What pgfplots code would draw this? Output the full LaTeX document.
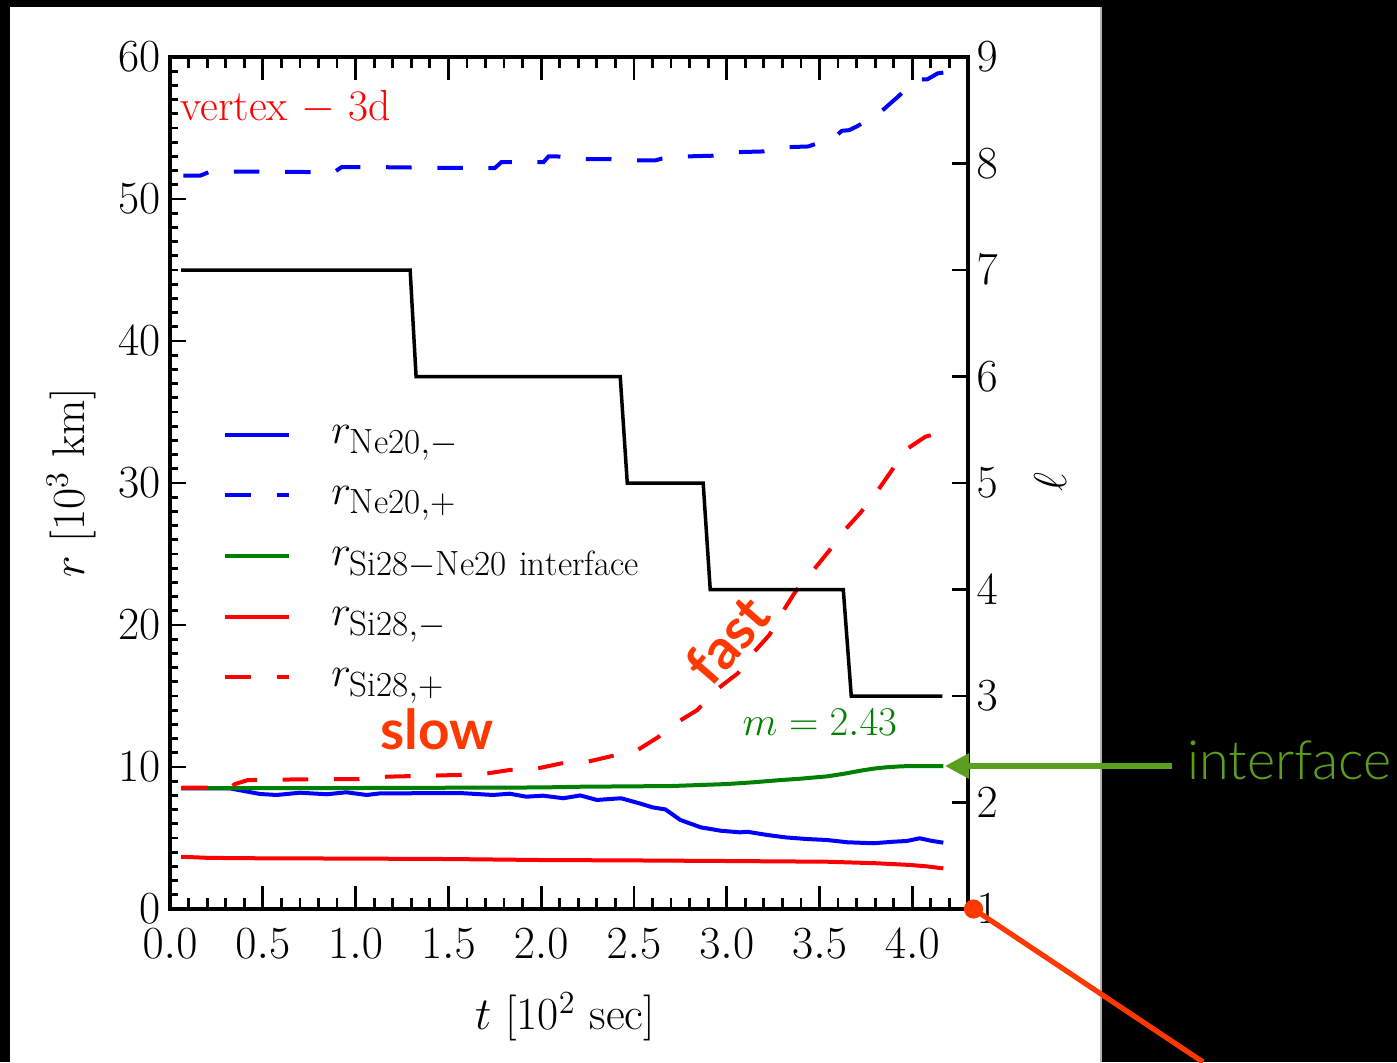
\RequirePackage{fix-cm}
\documentclass[border=0pt]{standalone}
\usepackage{fontspec}
\newfontfamily\lato{Lato}
\newfontfamily\latolight{Lato Light}
\usepackage{pgfplots}
\pgfplotsset{compat=1.18}
\usetikzlibrary{arrows.meta}
\definecolor{annored}{RGB}{255,56,0}
\definecolor{annogreen}{RGB}{92,158,30}
\definecolor{mplgreen}{RGB}{0,128,0}
\newcommand{\fs}[1]{\fontsize{#1}{#1}\selectfont}
\DeclareMathSizes{21}{21}{17.5}{13}
\begin{document}
\begin{tikzpicture}
\useasboundingbox (-85pt,-76.5pt) rectangle (613.5pt,454.5pt);
\fill[black] (-85pt,-76.5pt) rectangle (613.5pt,454.5pt);
\fill[white] (-80pt,-76.5pt) rectangle (465.5pt,451pt);
\draw[gray!60, line width=0.6pt] (465.5pt,-76.5pt) -- (465.5pt,451pt);
\pgfplotsset{
  common/.style={
    at={(0pt,0pt)}, anchor=south west, scale only axis,
    width=399pt, height=426pt, xmin=0, xmax=4.3,
    tick align=inside,
    tick label style={font=\fs{23}},
    label style={font=\fs{23}},
    tick style={black, line width=1.4pt},
  }
}
% frame and x ticks
\begin{axis}[common, ymin=0, ymax=60, ytick=\empty,
  axis line style={line width=2.1pt},
  xtick={0,0.5,1,1.5,2,2.5,3,3.5,4},
  minor xtick={0,0.1,...,4.35},
  xtick pos=both,
  major tick length=11.5pt, minor tick length=5.5pt,
  xticklabel style={/pgf/number format/fixed, /pgf/number format/fixed zerofill, /pgf/number format/precision=1, yshift=-6.2pt},
  xlabel={$t$ [10$^2$ sec]},
  xlabel style={at={(axis description cs:0.495,-0.142)}, anchor=base},
]
\addplot[draw=none] coordinates {(1,1)};
\end{axis}
% left axis: r
\begin{axis}[common, ymin=0, ymax=60,
  axis line style={draw=none},
  xtick=\empty,
  ytick={0,10,...,60}, minor ytick={0,1,...,60},
  ytick pos=left,
  major tick length=8pt, minor tick length=4pt,
  yticklabel style={xshift=-1.3pt},
  ylabel={$r$ [10$^3$ km]},
  ylabel style={at={(axis description cs:-0.1075,0.5)}, anchor=base},
  legend style={draw=none, fill=none, at={(axis description cs:0.0664,0.4143)}, anchor=west, inner sep=0pt,
    font=\fs{21}, row sep=9.3pt, nodes={inner sep=0pt, text height=15pt, text depth=6pt},
    /tikz/every odd column/.style={column sep=20pt}},
  legend cell align=left,
  legend image code/.code={\draw[#1] (0pt,0pt) -- (32pt,0pt);},
]
\addplot[blue, line width=2pt] coordinates {
(0.06,8.50) (0.32,8.50) (0.485,8.10) (0.575,8.03) (0.70,8.19) (0.845,8.08) (0.95,8.22)
(1.06,8.03) (1.13,8.14) (1.56,8.17) (1.74,8.03) (1.83,8.12) (1.92,7.91) (2.01,7.98)
(2.12,7.80) (2.21,8.00) (2.30,7.68) (2.43,7.80) (2.53,7.44) (2.60,7.16) (2.67,7.01)
(2.75,6.27) (2.86,5.75) (2.97,5.51) (3.07,5.40) (3.11,5.44) (3.22,5.21) (3.32,5.04)
(3.43,4.93) (3.54,4.86) (3.65,4.70) (3.79,4.63) (3.90,4.74) (3.97,4.79) (4.04,4.98)
(4.10,4.81) (4.167,4.67)};
\addlegendentry{$r_{\mathrm{Ne20,}-}$}
\addplot[blue, line width=2pt, dash pattern=on 12.8pt off 12.8pt] coordinates {
(0.072,51.64) (0.162,51.64) (0.207,51.88) (0.34,51.93) (0.755,51.90) (0.889,51.93)
(0.925,52.25) (1.08,52.25) (1.43,52.20) (1.706,52.18) (1.75,52.18) (1.786,52.60)
(1.977,52.60) (2.013,52.60) (2.04,53.00) (2.085,53.00) (2.24,52.80) (2.377,52.80)
(2.515,52.72) (2.615,52.72) (2.652,52.85) (2.787,53.00) (2.927,53.05) (3.057,53.30)
(3.197,53.35) (3.326,53.65) (3.44,53.70) (3.461,53.80) (3.585,54.39) (3.62,54.80)
(3.66,54.85) (3.698,55.09) (3.817,55.99) (3.919,57.16) (4.024,58.43) (4.081,58.43)
(4.137,58.85) (4.167,58.90)};
\addlegendentry{$r_{\mathrm{Ne20,}+}$}
\addplot[mplgreen, line width=2pt] coordinates {
(0.06,8.52) (1.0,8.52) (2.0,8.56) (2.21,8.61) (2.70,8.66) (3.0,8.80) (3.15,8.93) (3.27,9.06)
(3.40,9.18) (3.54,9.34) (3.63,9.52) (3.72,9.74) (3.80,9.90) (3.86,9.98) (3.93,10.04) (3.99,10.07) (4.167,10.07)};
\addlegendentry{$r_{\mathrm{Si28}-\mathrm{Ne20\ interface}}$}
\addplot[red, line width=2pt] coordinates {
(0.06,3.68) (0.21,3.60) (0.5,3.57) (1.0,3.55) (1.5,3.52) (2.0,3.45) (2.5,3.42)
(3.0,3.38) (3.54,3.33) (3.81,3.22) (3.99,3.10) (4.08,3.00) (4.167,2.86)};
\addlegendentry{$r_{\mathrm{Si28,}-}$}
\addplot[red, line width=2pt, dash pattern=on 12.8pt off 12.8pt] coordinates {
(0.065,8.54) (0.323,8.54) (0.350,8.80) (0.420,9.08) (0.70,9.13) (1.02,9.15) (1.17,9.32)
(1.56,9.44) (1.71,9.55) (1.83,9.79) (1.98,9.90) (2.11,10.26) (2.25,10.37) (2.38,10.77)
(2.52,11.20) (2.63,12.10) (2.74,13.20) (2.84,14.00) (2.95,15.50) (3.06,16.60)
(3.14,18.00) (3.23,19.30) (3.30,20.90) (3.37,22.35) (3.46,23.75) (3.55,25.20)
(3.63,26.60) (3.72,27.90) (3.81,29.40) (3.89,30.90) (3.96,32.30) (4.07,33.26) (4.167,33.60)};
\addlegendentry{$r_{\mathrm{Si28,}+}$}
\node[anchor=base west, inner sep=0pt, text=red, font=\fs{21.8}] at (axis cs:0.054,55.5) {vertex $-$ 3d};
\node[anchor=base west, inner sep=0pt, text=annored, font=\lato\bfseries\fs{27.5}] at (axis cs:1.132,11.2) {slow};
\node[inner sep=0pt, text=annored, font=\lato\bfseries\fs{28}, rotate=49] at (axis cs:3.003,18.94) {fast};
\node[anchor=base west, inner sep=0pt, text=mplgreen, font=\fs{20.4}] at (axis cs:3.084,12.25) {$m=2.43$};
\end{axis}
% right axis: ell
\begin{axis}[common, ymin=1, ymax=9,
  axis line style={draw=none},
  xtick=\empty,
  ytick={1,2,...,9},
  ytick pos=right, yticklabel pos=right,
  major tick length=8pt,
  yticklabel style={xshift=0.8pt},
  ylabel={$\ell$},
  ylabel style={at={(axis description cs:1.1028,0.501)}, anchor=center},
]
\addplot[black, line width=1.75pt] coordinates {
(0.06,7) (1.294,7) (1.326,6) (2.426,6) (2.464,5) (2.873,5) (2.911,4) (3.628,4) (3.671,3) (4.162,3)};
\end{axis}
% outside annotations
\draw[annogreen, line width=2.8pt, -{Triangle[length=12pt,width=12pt]}] (501pt,71.5pt) -- (387.5pt,71.5pt);
\node[anchor=base west, inner sep=0pt, text=annogreen, font=\latolight\fs{27}] at (508.5pt,65pt) {interface};
\draw[annored, line width=2.6pt] (401.75pt,0pt) -- (516.5pt,-76.5pt);
\fill[annored] (401.75pt,0pt) circle (4.8pt);
\end{tikzpicture}
\end{document}
